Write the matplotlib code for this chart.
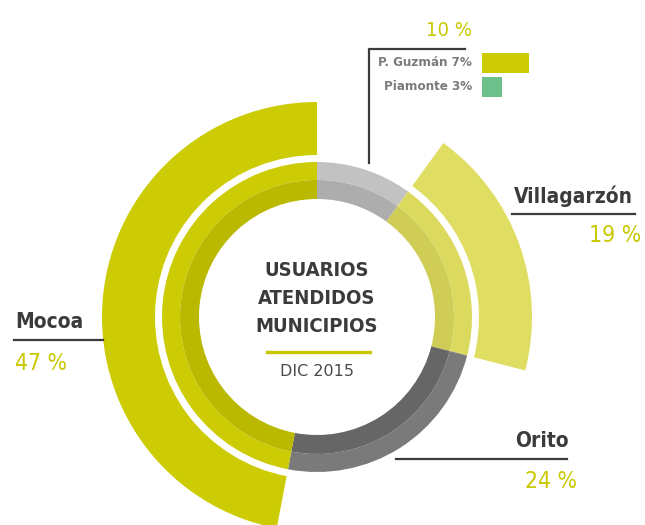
import matplotlib
matplotlib.use('Agg')
import matplotlib.pyplot as plt

# datos
municipios = ['P. Guzmán y Piamonte', 'Villagarzón', 'Orito', 'Mocoa']
porcentajes = [10, 19, 24, 47]
otros = ['P. Guzmán', 'Piamonte']
otros_pct = [7, 3]

W, H = 645, 525
COND = ['Liberation Sans Narrow', 'DejaVu Sans']
AMARILLO = '#c9c800'
TEXTO = '#3b3b3b'

fig = plt.figure(figsize=(6.45, 5.25), dpi=100)
ax = fig.add_axes([0, 0, 1, 1])

cx, cy = 317, H - 317

# anillo interior, banda clara y banda oscura
claros = ['#c2c2c2', '#dcda5e', '#7a7a7a', '#cdcc04']
oscuros = ['#adadad', '#cfcd55', '#666666', '#bab900']
ax.pie(porcentajes, colors=claros, radius=155, center=(cx, cy), startangle=90,
       counterclock=False, wedgeprops=dict(width=18, linewidth=0))
ax.pie(porcentajes, colors=oscuros, radius=137, center=(cx, cy), startangle=90,
       counterclock=False, wedgeprops=dict(width=19, linewidth=0))

# arcos exteriores (solo Villagarzon y Mocoa)
externos = ['none', '#e0de62', 'none', '#cdcc04']
ax.pie(porcentajes, colors=externos, radius=215, center=(cx, cy), startangle=90,
       counterclock=False, wedgeprops=dict(width=53, linewidth=0))

# leyenda de P. Guzman y Piamonte
ax.barh([H - 63, H - 87], [v * 6.7 for v in otros_pct], left=482, height=20,
        color=['#cdcc04', '#6dbf8c'])

ax.text(472, H - 30, '10 %', ha='right', va='center', fontsize=14.5,
        color=AMARILLO, family=COND, fontstretch='condensed')
for i, (nom, v) in enumerate(zip(otros, otros_pct)):
    ax.text(472, H - 63 - 24 * i, f'{nom} {v}%', ha='right', va='center',
            fontsize=9.5, fontweight='bold', color='#7b7b7b', family=COND,
            fontstretch='condensed')
ax.plot([369, 369, 465], [H - 163, H - 49, H - 49], color=TEXTO, lw=1.6)

# etiquetas
def etiqueta(nombre, pct, x_txt, y_txt, y_pct, linea, ha):
    ax.text(x_txt, H - y_txt, nombre, ha=ha, va='center', fontsize=15,
            fontweight='bold', color=TEXTO, family=COND, fontstretch='condensed')
    ax.plot(linea, [H - y_txt - 18, H - y_txt - 18], color=TEXTO, lw=1.6)
    ax.text(x_txt + (8 if ha == 'right' else 0), H - y_pct, f'{pct} %', ha=ha,
            va='center', fontsize=16.5, color=AMARILLO, family=COND,
            fontstretch='condensed')

etiqueta(municipios[1], porcentajes[1], 633, 196, 236, [512, 635], 'right')
etiqueta(municipios[2], porcentajes[2], 569, 441, 482, [396, 567], 'right')
etiqueta(municipios[3], porcentajes[3], 15, 322, 364, [14, 103], 'left')

# texto central
for i, linea in enumerate(['USUARIOS', 'ATENDIDOS', 'MUNICIPIOS']):
    ax.text(cx, H - 271 - 28 * i, linea, ha='center', va='center',
            fontsize=14.5, fontweight='bold', color=TEXTO, family=COND,
            fontstretch='condensed')
ax.plot([267, 370], [H - 352, H - 352], color=AMARILLO, lw=2.4)
ax.text(cx, H - 371, 'DIC 2015', ha='center', va='center', fontsize=11.5,
        color='#4a4a4a', family='DejaVu Sans')

ax.set_xlim(0, W)
ax.set_ylim(0, H)
ax.set_aspect('equal')
ax.axis('off')

fig.savefig('out.png', dpi=100, facecolor='white')
